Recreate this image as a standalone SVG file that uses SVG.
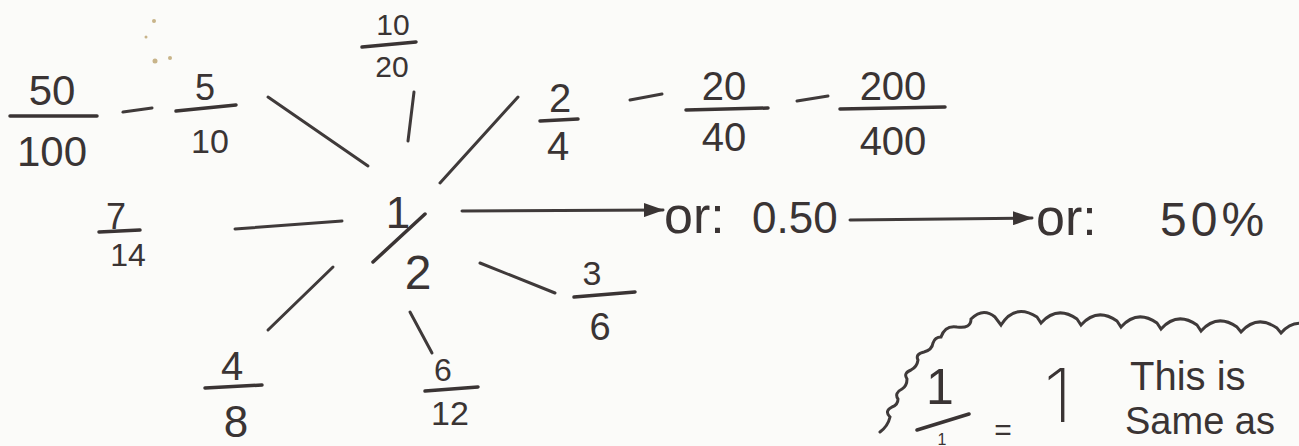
<svg xmlns="http://www.w3.org/2000/svg" width="1299" height="446" viewBox="0 0 1299 446">
<style>
.t{font-family:"Liberation Sans","DejaVu Sans",sans-serif;fill:#3a3434;text-anchor:middle}
.s{font-family:"Liberation Sans","DejaVu Sans",sans-serif;fill:#3a3434}
.thin{font-family:"Inter","DejaVu Sans",sans-serif;font-weight:200;fill:#3a3434;text-anchor:middle}
.b{stroke:#3a3434;stroke-width:3.5;stroke-linecap:round;fill:none}
.c{stroke:#3f3a3a;stroke-width:3;stroke-linecap:round;fill:none}
</style>
<defs>
<marker id="ah2" viewBox="0 0 20 14" refX="19" refY="7" markerWidth="20" markerHeight="14" orient="auto" markerUnits="userSpaceOnUse">
<path d="M0,0 L20,7 L0,14 Z" fill="#3a3434"/>
</marker>
</defs>
<rect width="1299" height="446" fill="#fbfbf9"/>
<g fill="#c8b48a">
<circle cx="154" cy="21" r="2"/><circle cx="146" cy="37" r="1.5"/><circle cx="155" cy="61" r="2.5"/><circle cx="170" cy="58" r="2"/>
</g>
<g id="center">
<text class="t" x="398" y="228" font-size="44">1</text>
<line class="b" x1="373" y1="262" x2="425" y2="214"/>
<text class="t" x="418" y="289" font-size="48">2</text>
</g>
<g id="f50_100">
<text class="t" x="52" y="105" font-size="42">50</text>
<line class="b" x1="10" y1="116" x2="97" y2="116"/>
<text class="t" x="52" y="166" font-size="42">100</text>
</g>
<g id="f5_10">
<text class="t" x="205" y="100" font-size="36">5</text>
<line class="b" x1="176" y1="111" x2="236" y2="105"/>
<text class="t" x="210" y="153" font-size="34">10</text>
</g>
<g id="f10_20">
<text class="t" x="393" y="35" font-size="30">10</text>
<line class="b" x1="362" y1="47" x2="416" y2="42"/>
<text class="t" x="392" y="77" font-size="30">20</text>
</g>
<g id="f2_4">
<text class="t" x="560" y="112" font-size="40">2</text>
<line class="b" x1="540" y1="121" x2="578" y2="119"/>
<text class="t" x="558" y="160" font-size="40">4</text>
</g>
<g id="f20_40">
<text class="t" x="724" y="100" font-size="40">20</text>
<line class="b" x1="686" y1="110" x2="768" y2="108"/>
<text class="t" x="724" y="151" font-size="40">40</text>
</g>
<g id="f200_400">
<text class="t" x="893" y="100" font-size="40">200</text>
<line class="b" x1="840" y1="109" x2="945" y2="107"/>
<text class="t" x="893" y="155" font-size="40">400</text>
</g>
<g id="f7_14">
<text class="t" x="116" y="229" font-size="36">7</text>
<line class="b" x1="99" y1="232" x2="140" y2="230"/>
<text class="t" x="128" y="266" font-size="32">14</text>
</g>
<g id="f4_8">
<text class="t" x="232" y="380" font-size="40">4</text>
<line class="b" x1="205" y1="388" x2="262" y2="385"/>
<text class="t" x="236" y="437" font-size="44">8</text>
</g>
<g id="f6_12">
<text class="t" x="443" y="381" font-size="32">6</text>
<line class="b" x1="425" y1="391" x2="478" y2="387"/>
<text class="t" x="450" y="425" font-size="34">12</text>
</g>
<g id="f3_6">
<text class="t" x="592" y="285" font-size="34">3</text>
<line class="b" x1="574" y1="297" x2="635" y2="292"/>
<text class="t" x="600" y="340" font-size="38">6</text>
</g>
<g id="decimal">
<text class="s" x="664" y="233" font-size="52">or:</text>
<text class="s" x="752" y="233" font-size="44">0.50</text>
</g>
<g id="percent">
<text class="s" x="1036" y="235" font-size="52">or:</text>
<text class="s" x="1160" y="236" font-size="48" letter-spacing="4">50%</text>
</g>
<g id="connectors">
<line class="c" x1="123" y1="112" x2="152" y2="108"/>
<line class="c" x1="630" y1="100" x2="662" y2="94"/>
<line class="c" x1="797" y1="101" x2="828" y2="96"/>
<line class="c" x1="268" y1="97" x2="368" y2="166"/>
<line class="c" x1="414" y1="92" x2="408" y2="141"/>
<line class="c" x1="518" y1="97" x2="440" y2="183"/>
<line class="c" x1="235" y1="229" x2="342" y2="221"/>
<line class="c" x1="268" y1="330" x2="333" y2="267"/>
<line class="c" x1="410" y1="312" x2="432" y2="353"/>
<line class="c" x1="480" y1="263" x2="555" y2="293"/>
<line class="c" x1="462" y1="211" x2="663" y2="210" marker-end="url(#ah2)"/>
<line class="c" x1="850" y1="220" x2="1032" y2="218" marker-end="url(#ah2)"/>
</g>
<g id="note">
<path class="c" stroke-width="2.5" d="M880,432 q8,-6 10,-15 q-6,-6 2,-10 q6,-2 6,-8 q-4,-6 4,-10 q5,-3 5,-10 q-4,-6 4,-9 q6,-3 7,-10 q-3,-6 6,-8 q8,-2 9,-9 q2,-6 8,-6 q4,-12 16,-10 q14,2 14,-8 q12,-12 24,-2 l6,8 q14,-22 36,-8 l4,6 q16,-18 36,-4 l4,6 q16,-18 36,-4 l4,6 q16,-18 36,-4 l4,6 q16,-18 36,-4 l4,6 q16,-18 36,-4 l4,5 q16,-18 36,-4 l4,5 q12,-14 28,-8"/>
<text class="t" x="940" y="404" font-size="50">1</text>
<line class="b" x1="917" y1="430" x2="969" y2="414"/>
<text class="t" x="942" y="445" font-size="16">1</text>
<text class="t" x="1003" y="440" font-size="30">=</text>
<text class="thin" x="1058" y="422" font-size="74">1</text>
<text class="s" x="1130" y="390" font-size="40">This is</text>
<text class="s" x="1125" y="434" font-size="38">Same as</text>
</g>
</svg>
